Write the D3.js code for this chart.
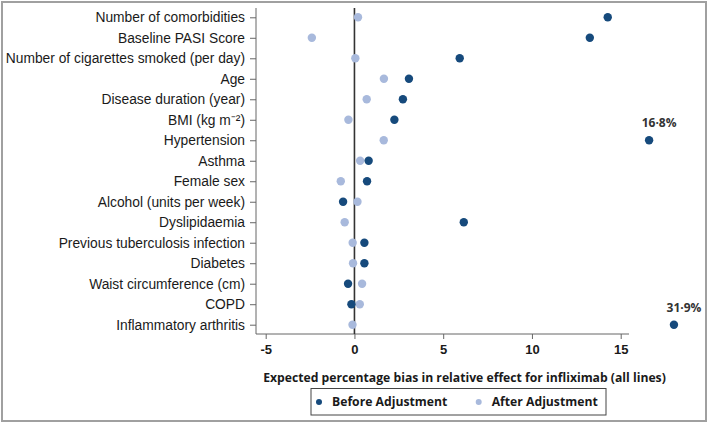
<!DOCTYPE html>
<html>
<head>
<meta charset="utf-8">
<script src="https://cdn.jsdelivr.net/npm/d3@7"></script>
<style>
  body { margin: 0; background: #fff; }
  svg { display: block; font-family: "Open Sans", "Noto Sans", sans-serif; }
</style>
</head>
<body>
<div class="chart"></div>
<script>
// data
const factors = [
  'Number of comorbidities', 'Baseline PASI Score', 'Number of cigarettes smoked (per day)',
  'Age', 'Disease duration (year)', 'BMI (kg m\u207B\u00B2)', 'Hypertension', 'Asthma',
  'Female sex', 'Alcohol (units per week)', 'Dyslipidaemia', 'Previous tuberculosis infection',
  'Diabetes', 'Waist circumference (cm)', 'COPD', 'Inflammatory arthritis'
];
const beforeVals = [14.27, 13.26, 5.93, 3.07, 2.73, 2.25, 16.6, 0.8, 0.71, -0.64, 6.16, 0.56, 0.56, -0.36, -0.17, 18.0];
const afterVals = [0.2, -2.4, 0.05, 1.66, 0.69, -0.34, 1.65, 0.32, -0.77, 0.17, -0.55, -0.1, -0.08, 0.43, 0.3, -0.11];
// off-scale values printed next to the point
const notes = [
  { factor: 'Hypertension', value: 16.6, label: '16\u00B78%' },
  { factor: 'Inflammatory arthritis', value: 18.0, label: '31\u00B79%' }
];
const xTicks = [-5, 0, 5, 10, 15];
const seriesNames = ['Before Adjustment', 'After Adjustment'];

const beforeColor = '#164a7c';
const afterColor = '#a8b9dc';
const W = 709, H = 423;

const svg = d3.select('.chart').append('svg').attr('width', W).attr('height', H);

// outer frame
svg.append('rect').attr('x', 2).attr('y', 2).attr('width', 704).attr('height', 419)
  .attr('fill', 'none').attr('stroke', '#a0a0a0').attr('stroke-width', 2);

const x = d3.scaleLinear().domain([-5, 15]).range([265.7, 620.7]);
const y = d3.scalePoint().domain(factors).range([17.3, 324.7]);
const plotLeft = 256, plotTop = 8, plotBottom = 334, plotRight = 629;

// y axis
const yAxis = svg.append('g').attr('transform', 'translate(' + plotLeft + ',0)')
  .call(d3.axisLeft(y).tickSize(6).tickPadding(5).tickSizeOuter(0));
yAxis.select('.domain').remove();
yAxis.append('line').attr('y1', plotTop).attr('y2', plotBottom).attr('stroke', '#666');
yAxis.selectAll('.tick line').attr('stroke', '#666');
yAxis.selectAll('.tick text').attr('fill', '#1a1a1a').style('font-size', '13.8px');

// x axis
const xAxis = svg.append('g').attr('transform', 'translate(0,' + plotBottom + ')')
  .call(d3.axisBottom(x).tickValues(xTicks).tickSize(5).tickPadding(6).tickFormat((d) => String(d)));
xAxis.select('.domain').remove();
xAxis.append('line').attr('x1', plotLeft).attr('x2', plotRight).attr('stroke', '#666');
xAxis.selectAll('.tick line').attr('stroke', '#666');
xAxis.selectAll('.tick text').attr('fill', '#1a1a1a').style('font-size', '13px').style('font-weight', 'bold');

// zero reference line
svg.append('line').attr('x1', x(0)).attr('x2', x(0)).attr('y1', plotTop).attr('y2', plotBottom)
  .attr('stroke', '#333').attr('stroke-width', 1.6);

// points
svg.selectAll('.after').data(factors).enter().append('circle')
  .attr('class', 'after').attr('r', 4.2)
  .attr('cx', (d, i) => x(afterVals[i])).attr('cy', (d) => y(d))
  .attr('fill', afterColor);
svg.selectAll('.before').data(factors).enter().append('circle')
  .attr('class', 'before').attr('r', 4.2)
  .attr('cx', (d, i) => x(beforeVals[i])).attr('cy', (d) => y(d))
  .attr('fill', beforeColor);

svg.selectAll('.note').data(notes).enter().append('text')
  .attr('x', (d) => x(d.value) + 10).attr('y', (d) => y(d.factor) - 13)
  .attr('text-anchor', 'middle').style('font-size', '12px').style('font-weight', 'bold')
  .attr('fill', '#333').text((d) => d.label);

// x title
svg.append('text').attr('x', 464.5).attr('y', 381.5).attr('text-anchor', 'middle')
  .style('font-size', '12.2px').style('font-weight', 'bold').attr('fill', '#1a1a1a')
  .text('Expected percentage bias in relative effect for infliximab (all lines)');

// legend
const legend = svg.append('g');
legend.append('rect').attr('x', 311).attr('y', 388.5).attr('width', 295).attr('height', 26.5)
  .attr('fill', 'none').attr('stroke', '#444').attr('stroke-width', 1);
const legendX = [319, 478.7];
const items = legend.selectAll('.item').data(seriesNames).enter().append('g')
  .attr('transform', (d, i) => 'translate(' + legendX[i] + ',402)');
items.append('circle').attr('r', 3).attr('fill', (d, i) => (i === 0 ? beforeColor : afterColor));
items.append('text').attr('x', 13).attr('dy', '0.35em').style('font-size', '12.2px')
  .style('font-weight', 'bold').attr('fill', '#1a1a1a').text((d) => d);
</script>
</body>
</html>
